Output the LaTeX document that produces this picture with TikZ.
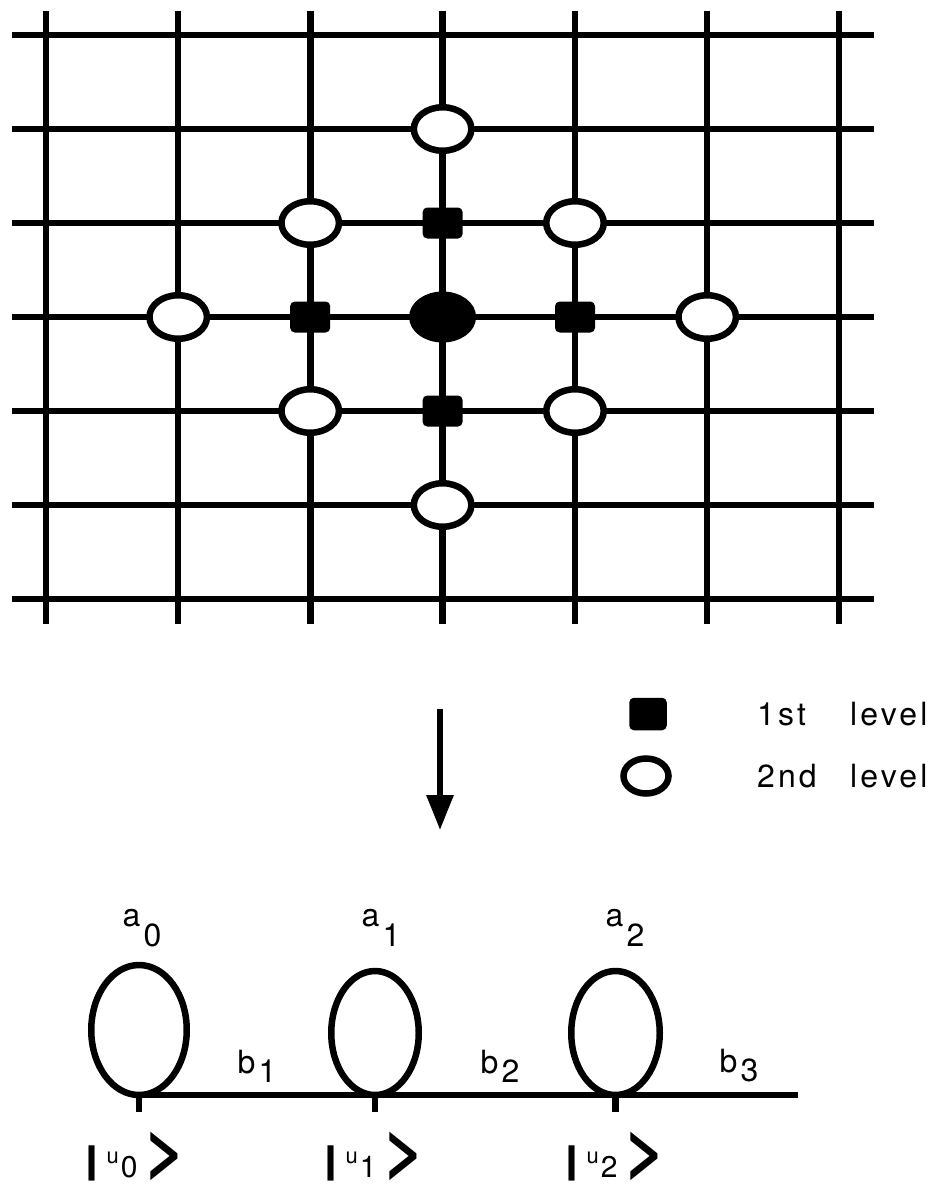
\documentclass[tikz,border=0pt]{standalone}
\usepackage{fontspec}
\setmainfont{TeX Gyre Heros}
\usetikzlibrary{arrows.meta,positioning,shapes.geometric}

\newcommand{\lowsub}[3]{#1\kern3pt\raisebox{-#3}{#2}}
\newcommand{\ketlbl}[1]{\scalebox{1.6}[1]{\fontsize{38}{38}\selectfont\bfseries |}\kern6pt\raisebox{10pt}{\fontsize{22}{22}\selectfont u}\kern2pt\raisebox{-4pt}{\fontsize{30}{30}\selectfont #1}\kern7pt\scalebox{1}[0.95]{\fontsize{72}{72}\selectfont\bfseries >}}

\begin{document}
\begin{tikzpicture}[
    x=1pt, y=-1pt,
    line width=6.5pt,
    every node/.style={font=\fontsize{32}{34}\selectfont, inner sep=0pt, outer sep=0pt},
    gridline/.style={line width=6.5pt, line cap=butt},
    lvltwo/.style={ellipse, draw, fill=white, minimum width=57.5pt, minimum height=43.5pt},
    seed/.style={ellipse, draw, fill=black, minimum width=60.5pt, minimum height=44.5pt},
    lvlone/.style={rectangle, draw, fill=black, rounded corners=2pt, minimum width=33.5pt, minimum height=24.5pt},
    loop/.style={ellipse, draw, anchor=south},
    keytext/.style={anchor=west, font=\fontsize{32}{34}\selectfont\addfontfeature{LetterSpace=10}},
    ket/.style={anchor=base},
    arrow/.style={-{Triangle[length=35pt, width=26pt]}, line width=6pt}
]
\useasboundingbox (0,0) rectangle (945,1188);

% lattice
\foreach \k in {0,...,6} {
    \draw[gridline] (12,35+94*\k) -- (874,35+94*\k);
    \draw[gridline] (46+132.2*\k,11) -- (46+132.2*\k,624);
}

% central site and its neighbours
\node[seed] (c) at (442.6,317) {};

\node[lvlone] (n1u) at (442.6,223) {};
\node[lvlone] (n1l) at (310.2,317) {};
\node[lvlone] (n1r) at (575,317) {};
\node[lvlone] (n1d) at (442.6,411) {};

\node[lvltwo] (n2uu) at (442.6,129) {};
\node[lvltwo] (n2ul) at (310.2,223) {};
\node[lvltwo] (n2ur) at (575,223) {};
\node[lvltwo] (n2ll) at (178.2,317) {};
\node[lvltwo] (n2rr) at (707.2,317) {};
\node[lvltwo] (n2dl) at (310.2,411) {};
\node[lvltwo] (n2dr) at (575,411) {};
\node[lvltwo] (n2dd) at (442.6,505) {};

% mapping arrow
\coordinate (arrtop) at (440,709);
\coordinate (arrtip) at (440,830);
\draw[arrow] (arrtop) -- (arrtip);

% legend
\node[lvlone, minimum width=31pt, minimum height=26pt] (keyone) at (648,714) {};
\node[keytext] (keyonetxt) at (757,714) {\makebox[93pt][l]{1st}level};
\node[lvltwo, minimum width=45pt, minimum height=35pt] (keytwo) at (646,776) {};
\node[keytext] (keytwotxt) at (757,776) {\makebox[93pt][l]{2nd}level};

% chain
\coordinate (s0) at (139,1095);
\coordinate (s1) at (375,1095);
\coordinate (s2) at (615.5,1095);
\coordinate (chainend) at (798,1095);
\draw (s0) -- (chainend);
\foreach \i in {0,1,2} \draw (s\i) -- ++(0,17);

\node[loop, minimum width=95.5pt, minimum height=130pt] (loop0) at (s0) {};
\node[loop, minimum width=87.5pt, minimum height=124pt] (loop1) at (s1) {};
\node[loop, minimum width=88.5pt, minimum height=124pt] (loop2) at (s2) {};

\node (a0) at (142,928) {\lowsub{a}{0}{20pt}};
\node (a1) at (381,928) {\lowsub{a}{1}{20pt}};
\node (a2) at (625,928) {\lowsub{a}{2}{20pt}};

\node (b1) at (257,1066) {\lowsub{b}{1}{9pt}};
\node (b2) at (500,1066) {\lowsub{b}{2}{9pt}};
\node (b3) at (739,1066) {\lowsub{b}{3}{9pt}};

\node[ket] (u0) at (135,1173) {\ketlbl{0}};
\node[ket] (u1) at (374,1173) {\ketlbl{1}};
\node[ket] (u2) at (615,1173) {\ketlbl{2}};

\end{tikzpicture}
\end{document}
